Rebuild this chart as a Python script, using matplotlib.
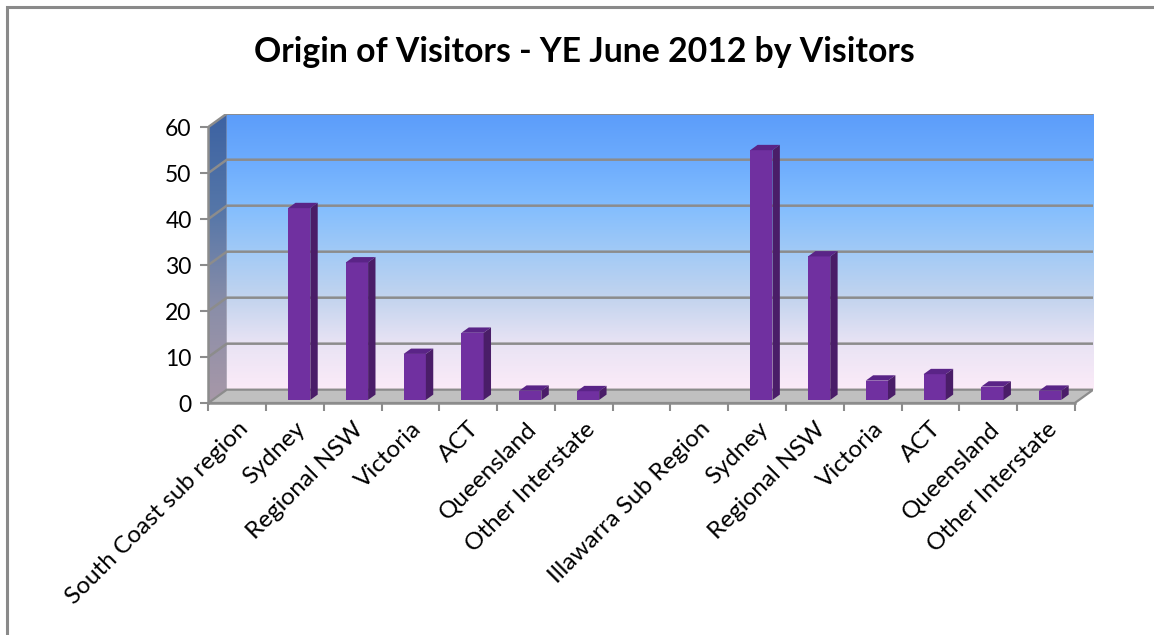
import matplotlib.pyplot as plt
import numpy as np
from matplotlib.patches import Polygon, Rectangle
from matplotlib.colors import LinearSegmentedColormap

plt.rcParams['font.family'] = ['Lato', 'DejaVu Sans']

categories = ['South Coast sub region', 'Sydney', 'Regional NSW', 'Victoria', 'ACT',
              'Queensland', 'Other Interstate', '', 'Illawarra Sub Region', 'Sydney',
              'Regional NSW', 'Victoria', 'ACT', 'Queensland', 'Other Interstate']
# percent of visitors; region header rows have no value
visitors = [None, 41.7, 29.9, 10.0, 14.6, 2.0, 1.9, None, None,
            54.3, 31.2, 4.2, 5.6, 2.9, 2.0]
yticks = [0, 10, 20, 30, 40, 50, 60]

title = 'Origin of Visitors - YE June 2012 by Visitors'

# fake 3d: depth of the plot box in data units
DX, DY = 0.32, 2.9
n = len(categories)
ymax = yticks[-1]

fig = plt.figure(figsize=(11.54, 6.35), dpi=100)
ax = fig.add_axes([208.3 / 1154, 1 - 403 / 635, (1093.3 - 208.3) / 1154, (403 - 113.7) / 635])

grid_col = '#8C8C8C'

# back wall gradient
wall_cmap = LinearSegmentedColormap.from_list('wall', [
    (0.0, '#FCEBF8'), (0.17, '#E8E3F4'), (0.33, '#C3D4EE'), (0.5, '#A2CAF6'),
    (0.67, '#82BDFE'), (0.83, '#6DACFD'), (1.0, '#5C9DFA')])
grad = np.linspace(0, 1, 256).reshape(-1, 1)
ax.imshow(grad, extent=(DX, n + DX, DY, ymax + DY), aspect='auto', origin='lower',
          cmap=wall_cmap, zorder=0, interpolation='bilinear')

# left side wall
side_cmap = LinearSegmentedColormap.from_list('side', ['#A898A8', '#8A8EA8', '#5576A8', '#3C62A2'])
side_poly = Polygon([(0, 0), (DX, DY), (DX, ymax + DY), (0, ymax)], closed=True,
                    fc='none', ec='none')
ax.add_patch(side_poly)
im = ax.imshow(grad, extent=(0, DX, 0, ymax + DY), aspect='auto', origin='lower',
               cmap=side_cmap, zorder=0, interpolation='bilinear')
im.set_clip_path(side_poly)

# floor
ax.add_patch(Polygon([(0, 0), (n, 0), (n + DX, DY), (DX, DY)], closed=True,
                     fc='#C0C0C0', ec=grid_col, lw=1.6, zorder=1))

# gridlines on side and back walls
for v in yticks[1:]:
    ax.plot([0, DX, n + DX], [v, v + DY, v + DY], color=grid_col, lw=1.8, zorder=1,
            solid_capstyle='butt')

# columns
bw = 0.385
fx, fy = 0.23 * DX, 0.23 * DY
bdx, bdy = 0.4 * DX, 0.4 * DY
x = np.arange(n) + 0.5
for xi, v in zip(x, visitors):
    if v is None:
        continue
    x0 = xi - bw / 2 + fx
    x1 = x0 + bw
    ax.bar(x0, v, bw, bottom=fy, align='edge', color='#7030A0', zorder=3)
    ax.add_patch(Polygon([(x0, v + fy), (x1, v + fy), (x1 + bdx, v + fy + bdy),
                          (x0 + bdx, v + fy + bdy)], closed=True, fc='#5A2487',
                         ec='none', zorder=3))
    ax.add_patch(Polygon([(x1, fy), (x1 + bdx, fy + bdy), (x1 + bdx, v + fy + bdy),
                          (x1, v + fy)], closed=True, fc='#4A1D68', ec='none', zorder=3))

ax.set_xlim(0, n + DX)
ax.set_ylim(0, ymax + DY)

for s in ['top', 'right']:
    ax.spines[s].set_visible(False)
ax.spines['left'].set_bounds(0, ymax)
ax.spines['bottom'].set_bounds(0, n)
for s in ['left', 'bottom']:
    ax.spines[s].set_color(grid_col)
    ax.spines[s].set_linewidth(1.8)
    ax.spines[s].set_zorder(4)

ax.set_yticks(yticks)
ax.tick_params(axis='y', length=6, width=1.5, color=grid_col, labelsize=16.5, pad=6)
ax.set_xticks(np.arange(n + 1))
ax.set_xticklabels([])
ax.tick_params(axis='x', which='major', length=6, width=1.5, color=grid_col)
ax.set_xticks(x, minor=True)
ax.set_xticklabels(categories, minor=True, rotation=45, ha='right',
                   rotation_mode='anchor', fontsize=17.5)
ax.tick_params(axis='x', which='minor', length=0, pad=11)

fig.text(584 / 1154, 1 - 52 / 635, title, ha='center', va='center',
         fontsize=24.3, fontweight='bold')

# chart area border
fig.patches.append(Rectangle((7 / 1154, -0.1), 1.2, 1.1 - 7 / 635,
                             transform=fig.transFigure, fill=False,
                             ec='#8A8A8A', lw=2.2))

fig.savefig('out.png', dpi=100)
